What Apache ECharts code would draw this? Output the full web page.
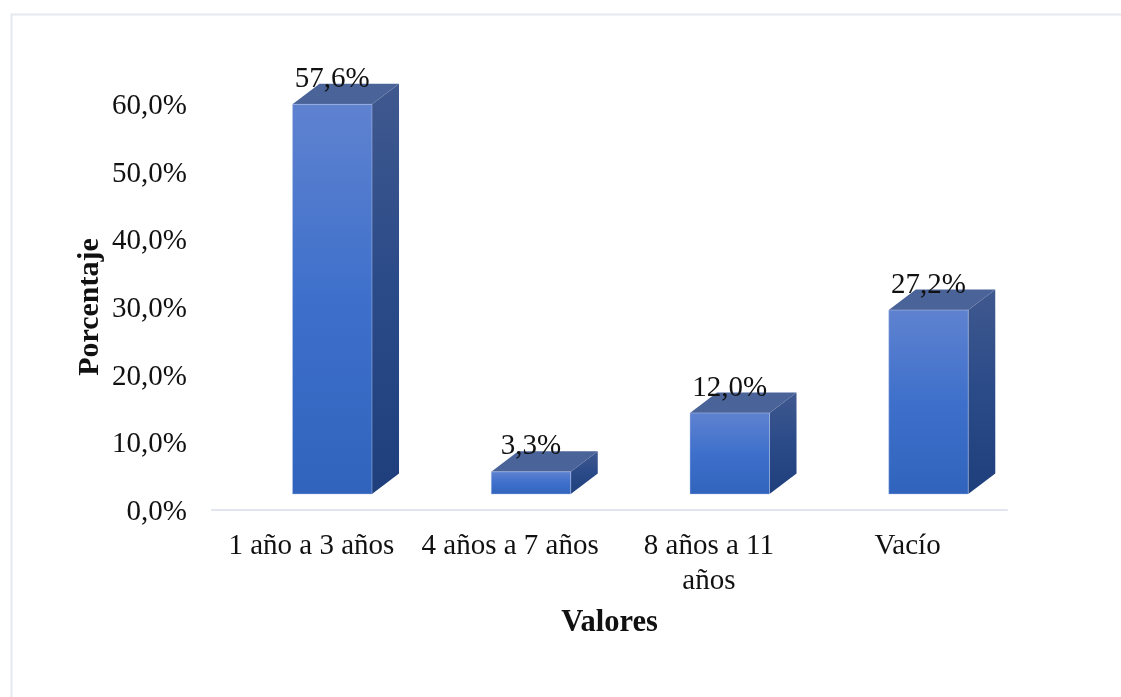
<!DOCTYPE html>
<html>
<head>
<meta charset="utf-8">
<style>html,body{margin:0;padding:0;background:#fff}#c{width:1121px;height:697px}</style>
<script src="https://cdn.jsdelivr.net/npm/echarts@6/dist/echarts.min.js"></script>
</head>
<body>
<div id="c"></div>
<script>
const categories = ['1 año a 3 años', '4 años a 7 años', '8 años a 11\naños', 'Vacío'];
const values = [57.6, 3.3, 12.0, 27.2];
const floorValue = 2.35;
const axisName = { x: 'Valores', y: 'Porcentaje' };
const fontFamily = '"Liberation Serif", "Times New Roman", serif';
const textColor = '#111111';
const pct = v => v.toFixed(1).replace('.', ',') + '%';
const grad = stops => new echarts.graphic.LinearGradient(0, 0, 0, 1, stops.map(c => ({ offset: c[0], color: c[1] })));

const chart = echarts.init(document.getElementById('c'), null, { renderer: 'canvas' });
chart.setOption({
  animation: false,
  backgroundColor: '#fff',
  grid: { left: 212, right: 114, top: 104, bottom: 187 },
  graphic: [{
    type: 'rect', silent: true, z: -1,
    shape: { x: 11.5, y: 14.5, width: 1200, height: 800 },
    style: { fill: 'none', stroke: '#e4e8ef', lineWidth: 2 }
  }],
  xAxis: {
    type: 'category', data: categories,
    axisTick: { show: false },
    axisLine: { lineStyle: { color: '#e2e5ee', width: 2 } },
    axisLabel: { color: textColor, fontFamily, fontSize: 29, lineHeight: 35, margin: 19, interval: 0 },
    name: axisName.x, nameLocation: 'middle', nameGap: 98, nameMoveOverlap: false,
    nameTextStyle: { color: textColor, fontFamily, fontSize: 30.5, fontWeight: 'bold' }
  },
  yAxis: {
    type: 'value', min: 0, max: 60, interval: 10,
    axisLine: { show: false }, axisTick: { show: false }, splitLine: { show: false },
    axisLabel: {
      color: textColor, fontFamily, fontSize: 29, margin: 25,
      formatter: v => '{t|' + pct(v) + '}',
      rich: { t: { color: textColor, fontFamily, fontSize: 29, padding: [5, 0, 0, 0] } }
    },
    name: axisName.y, nameLocation: 'middle', nameGap: 107, nameMoveOverlap: false, nameRotate: 90,
    nameTextStyle: { color: textColor, fontFamily, fontSize: 30, fontWeight: 'bold' }
  },
  series: [{
    type: 'custom',
    clip: false,
    data: values.map((v, i) => [i, v]),
    encode: { x: 0, y: 1 },
    renderItem(params, api) {
      const i = api.value(0), v = api.value(1);
      const band = api.size([1, 0])[0];
      const w = band * 0.4, off = band * 0.105, dx = band * 0.136, dy = 20.5;
      const cx = api.coord([i, 0])[0];
      const x0 = cx + off - w / 2, x1 = x0 + w;
      const yb = api.coord([i, floorValue])[1];
      const yt = api.coord([i, v + floorValue])[1];
      return {
        type: 'group',
        children: [
          { type: 'polygon', shape: { points: [[x1, yt], [x1 + dx, yt - dy], [x1 + dx, yb - dy], [x1, yb]] },
            style: { fill: grad([[0, '#40598f'], [0.5, '#2a4a88'], [1, '#1e3e7c']]) } },
          { type: 'polygon', shape: { points: [[x0, yt], [x0 + dx, yt - dy], [x1 + dx, yt - dy], [x1, yt]] },
            style: { fill: '#4a6398' } },
          { type: 'rect', shape: { x: x0, y: yt, width: w, height: yb - yt },
            style: { fill: grad([[0, '#5f82d0'], [0.5, '#3e70cb'], [1, '#3064bc']]), stroke: 'rgba(190,205,240,0.45)', lineWidth: 1 } },
          { type: 'text', z2: 10,
            style: { text: pct(v), x: (x0 + x1) / 2, y: yt - 25, align: 'center', verticalAlign: 'middle',
                     fill: textColor, font: '29px ' + fontFamily } }
        ]
      };
    }
  }]
});
</script>
</body>
</html>
